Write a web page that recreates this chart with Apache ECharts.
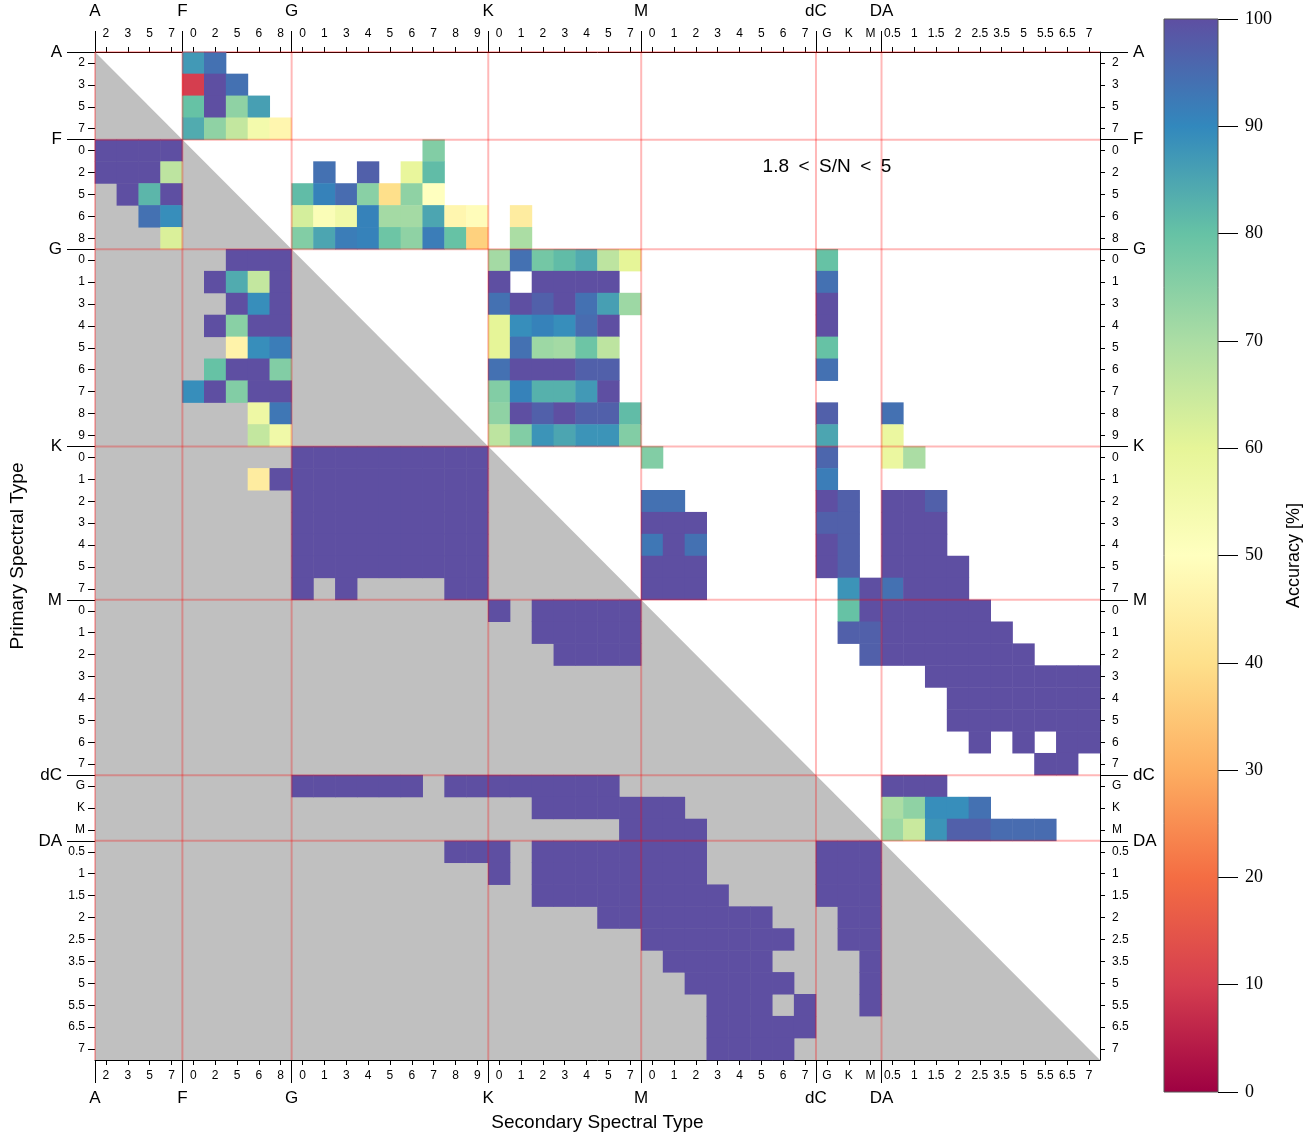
<!DOCTYPE html>
<html><head><meta charset="utf-8">
<script src="https://cdn.jsdelivr.net/npm/echarts@6/dist/echarts.min.js"></script>
<style>html,body{margin:0;padding:0;background:#fff}#c{width:1314px;height:1137px}</style>
</head><body><div id="c"></div>
<script>
// ---- tick labels / categories ----
const groups = ['A', 'F', 'G', 'K', 'M', 'dC', 'DA'];
const subA = ['2', '3', '5', '7'];
const subF = ['0', '2', '5', '6', '8'];
const subG = ['0', '1', '3', '4', '5', '6', '7', '8', '9'];
const subK = ['0', '1', '2', '3', '4', '5', '7'];
const subM = ['0', '1', '2', '3', '4', '5', '6', '7'];
const subdC = ['G', 'K', 'M'];
const subDA = ['0.5', '1', '1.5', '2', '2.5', '3.5', '5', '5.5', '6.5', '7'];
const subtypes = [subA, subF, subG, subK, subM, subdC, subDA];
const colorbarTicks = [0, 10, 20, 30, 40, 50, 60, 70, 80, 90, 100];

// ---- accuracy [%] : 1.8 < S/N < 5 (upper triangle) [primary, [[secondary, value], ...]] ----
const lowSN = [
  ['A2', [['F0', 87], ['F2', 94]]],
  ['A3', [['F0', 10], ['F2', 100], ['F5', 94]]],
  ['A5', [['F0', 80], ['F2', 100], ['F5', 74], ['F6', 86]]],
  ['A7', [['F0', 84], ['F2', 74], ['F5', 66], ['F6', 55], ['F8', 47]]],
  ['F0', [['G7', 76]]],
  ['F2', [['G1', 94], ['G4', 97], ['G6', 59], ['G7', 81]]],
  ['F5', [['G0', 81], ['G1', 91], ['G3', 95], ['G4', 75], ['G5', 40], ['G6', 74], ['G7', 50]]],
  ['F6', [['G0', 63], ['G1', 52], ['G3', 56], ['G4', 91], ['G5', 71], ['G6', 71], ['G7', 85], ['G8', 47], ['G9', 49], ['K1', 44]]],
  ['F8', [['G0', 76], ['G1', 85], ['G3', 92], ['G4', 91], ['G5', 79], ['G6', 74], ['G7', 92], ['G8', 80], ['G9', 37], ['K1', 70]]],
  ['G0', [['K0', 71], ['K1', 94], ['K2', 78], ['K3', 81], ['K4', 84], ['K5', 67], ['K7', 60], ['dCG', 80]]],
  ['G1', [['K0', 100], ['K2', 100], ['K3', 100], ['K4', 100], ['K5', 100], ['dCG', 94]]],
  ['G3', [['K0', 94], ['K1', 100], ['K2', 97], ['K3', 100], ['K4', 94], ['K5', 86], ['K7', 72], ['dCG', 100]]],
  ['G4', [['K0', 60], ['K1', 89], ['K2', 91], ['K3', 89], ['K4', 95], ['K5', 100], ['dCG', 100]]],
  ['G5', [['K0', 60], ['K1', 94], ['K2', 72], ['K3', 71], ['K4', 79], ['K5', 67], ['dCG', 80]]],
  ['G6', [['K0', 94], ['K1', 100], ['K2', 100], ['K3', 100], ['K4', 97], ['K5', 97], ['dCG', 94]]],
  ['G7', [['K0', 76], ['K1', 91], ['K2', 83], ['K3', 83], ['K4', 87], ['K5', 100]]],
  ['G8', [['K0', 74], ['K1', 100], ['K2', 97], ['K3', 100], ['K4', 97], ['K5', 97], ['K7', 81], ['dCG', 97], ['DA0.5', 94]]],
  ['G9', [['K0', 67], ['K1', 76], ['K2', 88], ['K3', 85], ['K4', 88], ['K5', 88], ['K7', 76], ['dCG', 85], ['DA0.5', 58]]],
  ['K0', [['M0', 76], ['dCG', 96], ['DA0.5', 58], ['DA1', 70]]],
  ['K1', [['dCG', 92]]],
  ['K2', [['M0', 94], ['M1', 94], ['dCG', 100], ['dCK', 97], ['DA0.5', 100], ['DA1', 100], ['DA1.5', 97]]],
  ['K3', [['M0', 100], ['M1', 100], ['M2', 100], ['dCG', 97], ['dCK', 97], ['DA0.5', 100], ['DA1', 100], ['DA1.5', 100]]],
  ['K4', [['M0', 93], ['M1', 100], ['M2', 94], ['dCG', 100], ['dCK', 97], ['DA0.5', 100], ['DA1', 100], ['DA1.5', 100]]],
  ['K5', [['M0', 100], ['M1', 100], ['M2', 100], ['dCG', 100], ['dCK', 97], ['DA0.5', 100], ['DA1', 100], ['DA1.5', 100], ['DA2', 100]]],
  ['K7', [['M0', 100], ['M1', 100], ['M2', 100], ['dCK', 88], ['dCM', 100], ['DA0.5', 94], ['DA1', 100], ['DA1.5', 100], ['DA2', 100]]],
  ['M0', [['dCK', 80], ['dCM', 100], ['DA0.5', 100], ['DA1', 100], ['DA1.5', 100], ['DA2', 100], ['DA2.5', 100]]],
  ['M1', [['dCK', 97], ['dCM', 97], ['DA0.5', 100], ['DA1', 100], ['DA1.5', 100], ['DA2', 100], ['DA2.5', 100], ['DA3.5', 100]]],
  ['M2', [['dCM', 97], ['DA0.5', 100], ['DA1', 100], ['DA1.5', 100], ['DA2', 100], ['DA2.5', 100], ['DA3.5', 100], ['DA5', 100]]],
  ['M3', [['DA1.5', 100], ['DA2', 100], ['DA2.5', 100], ['DA3.5', 100], ['DA5', 100], ['DA5.5', 100], ['DA6.5', 100], ['DA7', 100]]],
  ['M4', [['DA2', 100], ['DA2.5', 100], ['DA3.5', 100], ['DA5', 100], ['DA5.5', 100], ['DA6.5', 100], ['DA7', 100]]],
  ['M5', [['DA2', 100], ['DA2.5', 100], ['DA3.5', 100], ['DA5', 100], ['DA5.5', 100], ['DA6.5', 100], ['DA7', 100]]],
  ['M6', [['DA2.5', 100], ['DA5', 100], ['DA6.5', 100], ['DA7', 100]]],
  ['M7', [['DA5.5', 100], ['DA6.5', 100]]],
  ['dCG', [['DA0.5', 100], ['DA1', 100], ['DA1.5', 100]]],
  ['dCK', [['DA0.5', 70], ['DA1', 74], ['DA1.5', 89], ['DA2', 89], ['DA2.5', 94]]],
  ['dCM', [['DA0.5', 72], ['DA1', 65], ['DA1.5', 88], ['DA2', 97], ['DA2.5', 97], ['DA3.5', 95], ['DA5', 95], ['DA5.5', 95]]]
];

// ---- accuracy [%] : 5 < S/N < 15 (lower triangle) ----
const highSN = [
  ['F0', [['A2', 100], ['A3', 100], ['A5', 100], ['A7', 100]]],
  ['F2', [['A2', 100], ['A3', 100], ['A5', 100], ['A7', 67]]],
  ['F5', [['A3', 100], ['A5', 82], ['A7', 100]]],
  ['F6', [['A5', 94], ['A7', 89]]],
  ['F8', [['A7', 62]]],
  ['G0', [['F5', 100], ['F6', 100], ['F8', 100]]],
  ['G1', [['F2', 100], ['F5', 84], ['F6', 66], ['F8', 100]]],
  ['G3', [['F5', 100], ['F6', 89], ['F8', 100]]],
  ['G4', [['F2', 100], ['F5', 75], ['F6', 100], ['F8', 100]]],
  ['G5', [['F5', 46], ['F6', 89], ['F8', 92]]],
  ['G6', [['F2', 80], ['F5', 100], ['F6', 100], ['F8', 76]]],
  ['G7', [['F0', 89], ['F2', 100], ['F5', 76], ['F6', 100], ['F8', 100]]],
  ['G8', [['F6', 57], ['F8', 93]]],
  ['G9', [['F6', 66], ['F8', 56]]],
  ['K0', [['G0', 100], ['G1', 100], ['G3', 100], ['G4', 100], ['G5', 100], ['G6', 100], ['G7', 100], ['G8', 100], ['G9', 100]]],
  ['K1', [['F6', 44], ['F8', 100], ['G0', 100], ['G1', 100], ['G3', 100], ['G4', 100], ['G5', 100], ['G6', 100], ['G7', 100], ['G8', 100], ['G9', 100]]],
  ['K2', [['G0', 100], ['G1', 100], ['G3', 100], ['G4', 100], ['G5', 100], ['G6', 100], ['G7', 100], ['G8', 100], ['G9', 100]]],
  ['K3', [['G0', 100], ['G1', 100], ['G3', 100], ['G4', 100], ['G5', 100], ['G6', 100], ['G7', 100], ['G8', 100], ['G9', 100]]],
  ['K4', [['G0', 100], ['G1', 100], ['G3', 100], ['G4', 100], ['G5', 100], ['G6', 100], ['G7', 100], ['G8', 100], ['G9', 100]]],
  ['K5', [['G0', 100], ['G1', 100], ['G3', 100], ['G4', 100], ['G5', 100], ['G6', 100], ['G7', 100], ['G8', 100], ['G9', 100]]],
  ['K7', [['G0', 100], ['G3', 100], ['G8', 100], ['G9', 100]]],
  ['M0', [['K0', 100], ['K2', 100], ['K3', 100], ['K4', 100], ['K5', 100], ['K7', 100]]],
  ['M1', [['K2', 100], ['K3', 100], ['K4', 100], ['K5', 100], ['K7', 100]]],
  ['M2', [['K3', 100], ['K4', 100], ['K5', 100], ['K7', 100]]],
  ['dCG', [['G0', 100], ['G1', 100], ['G3', 100], ['G4', 100], ['G5', 100], ['G6', 100], ['G8', 100], ['G9', 100], ['K0', 100], ['K1', 100], ['K2', 100], ['K3', 100], ['K4', 100], ['K5', 100]]],
  ['dCK', [['K2', 100], ['K3', 100], ['K4', 100], ['K5', 100], ['K7', 100], ['M0', 100], ['M1', 100]]],
  ['dCM', [['K7', 100], ['M0', 100], ['M1', 100], ['M2', 100]]],
  ['DA0.5', [['G8', 100], ['G9', 100], ['K0', 100], ['K2', 100], ['K3', 100], ['K4', 100], ['K5', 100], ['K7', 100], ['M0', 100], ['M1', 100], ['M2', 100], ['dCG', 100], ['dCK', 100], ['dCM', 100]]],
  ['DA1', [['K0', 100], ['K2', 100], ['K3', 100], ['K4', 100], ['K5', 100], ['K7', 100], ['M0', 100], ['M1', 100], ['M2', 100], ['dCG', 100], ['dCK', 100], ['dCM', 100]]],
  ['DA1.5', [['K2', 100], ['K3', 100], ['K4', 100], ['K5', 100], ['K7', 100], ['M0', 100], ['M1', 100], ['M2', 100], ['M3', 100], ['dCG', 100], ['dCK', 100], ['dCM', 100]]],
  ['DA2', [['K5', 100], ['K7', 100], ['M0', 100], ['M1', 100], ['M2', 100], ['M3', 100], ['M4', 100], ['M5', 100], ['dCK', 100], ['dCM', 100]]],
  ['DA2.5', [['M0', 100], ['M1', 100], ['M2', 100], ['M3', 100], ['M4', 100], ['M5', 100], ['M6', 100], ['dCK', 100], ['dCM', 100]]],
  ['DA3.5', [['M1', 100], ['M2', 100], ['M3', 100], ['M4', 100], ['M5', 100], ['dCM', 100]]],
  ['DA5', [['M2', 100], ['M3', 100], ['M4', 100], ['M5', 100], ['M6', 100], ['dCM', 100]]],
  ['DA5.5', [['M3', 100], ['M4', 100], ['M5', 100], ['M7', 100], ['dCM', 100]]],
  ['DA6.5', [['M3', 100], ['M4', 100], ['M5', 100], ['M6', 100], ['M7', 100]]],
  ['DA7', [['M3', 100], ['M4', 100], ['M5', 100], ['M6', 100]]]
];

// ---- build categories ----
const cats = [], catLabels = [], bounds = [];
groups.forEach((g, gi) => {
  bounds.push(cats.length);
  subtypes[gi].forEach(s => { cats.push(g + s); catLabels.push(s); });
});
const N = cats.length;
const idx = k => { const i = cats.indexOf(k); if (i < 0) console.error('bad key ' + k); return i; };
function toCells(rows) {
  const out = [];
  rows.forEach(([p, list]) => list.forEach(([s, v]) => out.push([idx(s), idx(p), v])));
  return out;
}
const cells = toCells(lowSN).concat(toCells(highSN));

const SPECTRAL = ['#9e0142', '#d53e4f', '#f46d43', '#fdae61', '#fee08b', '#ffffbf',
                  '#e6f598', '#abdda4', '#66c2a5', '#3288bd', '#5e4fa2'];
const SANS = '"Liberation Sans", "DejaVu Sans", sans-serif';
const SERIF = '"Liberation Serif", "DejaVu Serif", serif';
const RED = 'rgba(255,0,0,0.28)';

function catAxis(kind, pos, margin, tickLen) {
  return {
    type: 'category', gridIndex: 0, position: pos, data: cats, inverse: kind === 'y',
    axisLine: { show: true, onZero: false, lineStyle: { color: '#000', width: 1 } },
    axisTick: { show: true, alignWithLabel: true, interval: 0, length: tickLen, lineStyle: { color: '#000' } },
    axisLabel: { interval: 0, margin: margin, fontSize: 12, fontFamily: SANS, color: '#000',
                 formatter: (v) => catLabels[cats.indexOf(v)] },
    splitLine: { show: false }, splitArea: { show: false }
  };
}
function grpAxis(kind, pos, margin, tickLen, extra) {
  return Object.assign({
    type: 'value', gridIndex: 0, position: pos, min: 0, max: N, inverse: kind === 'y',
    axisLine: { show: false, onZero: false },
    axisTick: { show: true, customValues: bounds, length: tickLen, lineStyle: { color: '#000' } },
    axisLabel: { customValues: bounds, margin: margin, fontSize: 17, fontFamily: SANS, color: '#000',
                 formatter: (v) => groups[bounds.indexOf(v)] },
    splitLine: { show: false }
  }, extra || {});
}

const chart = echarts.init(document.getElementById('c'), null, { renderer: 'canvas' });
chart.setOption({
  animation: false,
  backgroundColor: '#fff',
  grid: [
    { left: 95, top: 52, width: 1005, height: 1008, containLabel: false, outerBoundsMode: 'none' },
    { left: 1164, top: 19, width: 54, height: 1073, containLabel: false, outerBoundsMode: 'none' }
  ],
  xAxis: [
    catAxis('x', 'bottom', 10, 5),
    catAxis('x', 'top', 12, 5),
    grpAxis('x', 'bottom', 30, 23, { name: 'Secondary Spectral Type', nameLocation: 'middle', nameGap: 53,
      nameTextStyle: { fontSize: 19, fontFamily: SANS, color: '#000' } }),
    grpAxis('x', 'top', 32, 21),
    { type: 'value', gridIndex: 1, min: 0, max: 1, show: false, position: 'bottom',
      axisLine: { show: false, onZero: false }, axisTick: { show: false }, axisLabel: { show: false }, splitLine: { show: false } }
  ],
  yAxis: [
    catAxis('y', 'left', 10, 7),
    catAxis('y', 'right', 12, 5),
    grpAxis('y', 'left', 33, 28, { name: 'Primary Spectral Type', nameLocation: 'middle', nameGap: 67, nameRotate: 90,
      nameTextStyle: { fontSize: 19, fontFamily: SANS, color: '#000' } }),
    grpAxis('y', 'right', 33, 28),
    { type: 'value', gridIndex: 1, min: colorbarTicks[0], max: colorbarTicks[colorbarTicks.length - 1], interval: 10,
      position: 'right',
      axisLine: { show: false, onZero: false },
      axisTick: { show: true, length: 20, lineStyle: { color: '#000' } },
      axisLabel: { margin: 27, fontSize: 18, fontFamily: SERIF, color: '#000' },
      splitLine: { show: false },
      name: 'Accuracy [%]', nameLocation: 'middle', nameGap: 67, nameRotate: 90,
      nameTextStyle: { fontSize: 18, fontFamily: SANS, color: '#000' } }
  ],
  visualMap: {
    type: 'continuous', show: false, min: 0, max: 100, seriesIndex: 1,
    inRange: { color: SPECTRAL }
  },
  series: [
    { // gray lower triangle (5 < S/N < 15 half)
      type: 'custom', xAxisIndex: 2, yAxisIndex: 2, clip: false, silent: true, z: 1,
      data: [[0, 0]],
      renderItem: (params, api) => {
        const p0 = api.coord([0, 0]), p1 = api.coord([0, N]), p2 = api.coord([N, N]);
        return { type: 'polygon', shape: { points: [p0, p1, p2] }, style: { fill: '#c0c0c0' } };
      }
    },
    {
      type: 'heatmap', xAxisIndex: 0, yAxisIndex: 0, data: cells, z: 2,
      itemStyle: { borderWidth: 0 },
      emphasis: { disabled: true }, silent: true
    },
    { // group boundary lines
      type: 'custom', xAxisIndex: 2, yAxisIndex: 2, clip: false, silent: true, z: 5,
      data: bounds.map(b => [b, b]),
      renderItem: (params, api) => {
        const b = api.value(0);
        const a = api.coord([b, 0]), c = api.coord([b, N]);
        const d = api.coord([0, b]), e = api.coord([N, b]);
        return { type: 'group', children: [
          { type: 'line', shape: { x1: a[0], y1: a[1], x2: c[0], y2: c[1] }, style: { stroke: RED, lineWidth: 2 } },
          { type: 'line', shape: { x1: d[0], y1: d[1], x2: e[0], y2: e[1] }, style: { stroke: RED, lineWidth: 2 } }
        ] };
      }
    },
    { // colorbar
      type: 'custom', xAxisIndex: 4, yAxisIndex: 4, clip: false, silent: true, z: 3,
      data: [[0, 0, 1, 100]],
      renderItem: (params, api) => {
        const tl = api.coord([api.value(0), api.value(3)]);
        const br = api.coord([api.value(2), api.value(1)]);
        const stops = SPECTRAL.map((c, i) => ({ offset: i / (SPECTRAL.length - 1), color: c }));
        const shape = { x: tl[0], y: tl[1], width: br[0] - tl[0], height: br[1] - tl[1] };
        return { type: 'group', children: [
          { type: 'rect', shape: shape, style: { fill: new echarts.graphic.LinearGradient(0, 1, 0, 0, stops) } },
          { type: 'rect', shape: shape, style: { fill: null, stroke: '#555', lineWidth: 1 } }
        ] };
      }
    }
  ],
  graphic: [
    { type: 'text', x: 827, y: 167, style: { text: '1.8\u2002<\u2002S/N\u2002<\u20025', font: '19px ' + SANS, fill: '#000', align: 'center', verticalAlign: 'middle' } },
    { type: 'text', x: 277, y: 932, style: { text: '5\u2002<\u2002S/N\u2002<\u200215', font: '19px ' + SANS, fill: '#000', align: 'center', verticalAlign: 'middle' } }
  ]
});
</script>
</body></html>
